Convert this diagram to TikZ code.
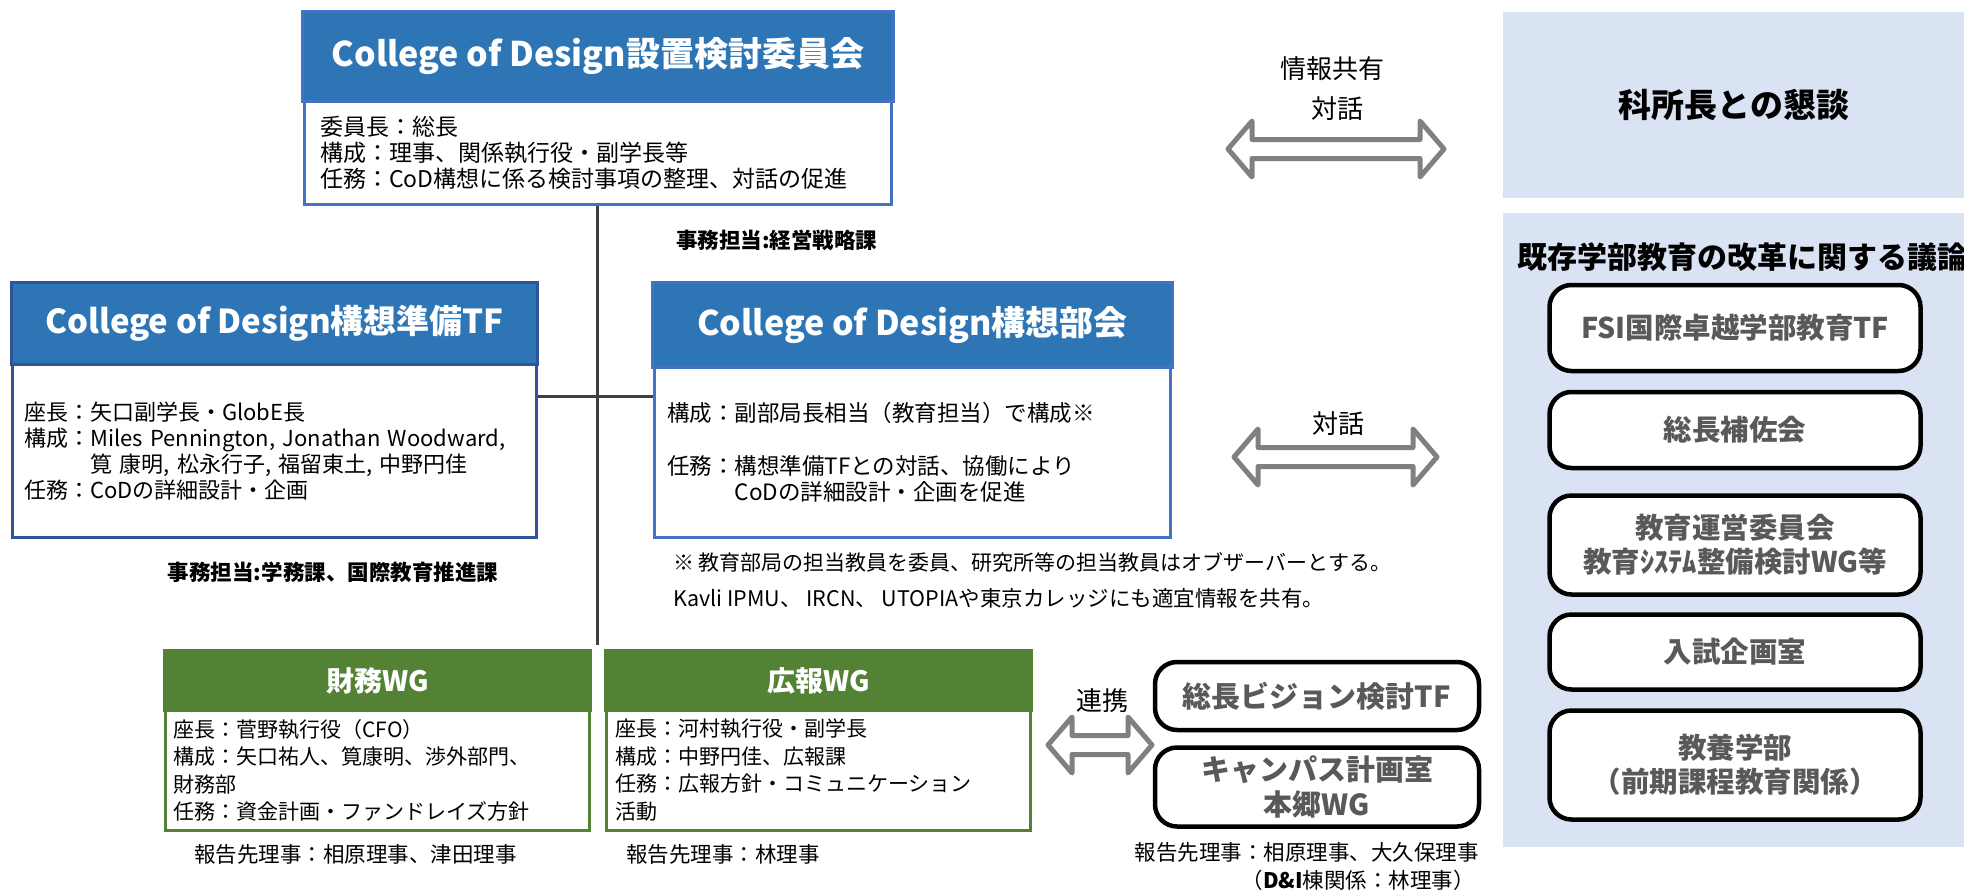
\documentclass[tikz,border=0pt]{standalone}
\usepackage{fontspec}
\setmainfont{Noto Sans CJK JP}
\definecolor{hblue}{HTML}{2E75B6}
\definecolor{bblue}{HTML}{4472C4}
\definecolor{dblue}{HTML}{2F5597}
\definecolor{wgreen}{HTML}{548235}
\definecolor{panelc}{HTML}{DAE3F3}
\definecolor{agray}{HTML}{808080}
\definecolor{tgray}{HTML}{595959}
\definecolor{lgray}{HTML}{404040}
\newcommand{\fs}[2]{\fontsize{#1}{#2}\selectfont}
\newcommand{\dblarr}[3]{%
\draw[dblarrow] (#1,#3) -- ({#1+24},{#3-28}) -- ({#1+24},{#3-9.5}) -- ({#2-24},{#3-9.5}) -- ({#2-24},{#3-28}) -- (#2,#3) -- ({#2-24},{#3+28}) -- ({#2-24},{#3+9.5}) -- ({#1+24},{#3+9.5}) -- ({#1+24},{#3+28}) -- cycle;}
\begin{document}
\begin{tikzpicture}[x=1pt,y=-1pt,
  hdr/.style={rectangle, anchor=north west, inner sep=0pt, line width=3pt, text=white, font=\bfseries\fs{34}{40}},
  hdrblue/.style={hdr, fill=hblue, draw=bblue},
  bodybox/.style={rectangle, anchor=north west, fill=white, line width=2.5pt, align=left, inner ysep=0pt, font=\fs{22}{26}},
  wgbody/.style={bodybox, draw=wgreen, font=\fs{21}{27.5}},
  wghdr/.style={hdr, fill=wgreen, draw=wgreen, minimum width=426pt, minimum height=60pt, font=\bfseries\fs{28}{34}},
  rbox/.style={rectangle, rounded corners=22pt, draw=black, line width=4.5pt, fill=white, text=tgray, font=\bfseries\fs{28.5}{34}, align=center, inner sep=0pt},
  panelbox/.style={rectangle, fill=panelc, anchor=north west, inner sep=0pt},
  conn/.style={draw=lgray, line width=3pt},
  dblarrow/.style={draw=agray, fill=white, line width=5pt, line join=round},
  lbl/.style={inner sep=0pt, font=\fs{26}{30}},
  txt/.style={inner sep=0pt, font=\fs{21}{26}},
  rep/.style={inner sep=0pt, font=\fs{21.5}{26}},
  office/.style={inner sep=0pt, font=\bfseries\fs{21.5}{26}}
]
\useasboundingbox (0,0) rectangle (1964,889);

\coordinate (vend) at (597,645);
\coordinate (hy) at (0,396);

% top committee
\node[bodybox, draw=bblue, text width=555pt, inner xsep=16pt, minimum height=103pt, font=\fs{23}{26}] (topb) at (303,100)
 {委員長：総長\\構成：理事、関係執行役・副学長等\\任務：CoD構想に係る検討事項の整理、対話の促進};
\node[hdrblue, minimum width=591pt, minimum height=90pt] (toph) at (301,10) {College of Design設置検討委員会};

% left TF
\node[bodybox, draw=dblue, text width=500pt, inner xsep=12pt, minimum height=173pt] (lb) at (11,363)
 {座長：矢口副学長・GlobE長\\\mbox{構成：Miles Pennington, Jonathan Woodward,}\\\mbox{\phantom{構成：}筧 康明, 松永行子, 福留東土, 中野円佳}\\任務：CoDの詳細設計・企画};
\node[hdr, fill=hblue, draw=dblue, minimum width=526pt, minimum height=82pt, font=\bfseries\fs{33}{40}] (lh) at (10,281) {College of Design構想準備TF};

% middle
\node[bodybox, draw=bblue, text width=490pt, inner xsep=13pt, minimum height=170pt, font=\fs{22.5}{26}] (mb) at (653,366)
 {構成：副部局長相当（教育担当）で構成※\\[27pt]任務：構想準備TFとの対話、協働により\\\phantom{任務：}CoDの詳細設計・企画を促進};
\node[hdrblue, minimum width=520pt, minimum height=85pt] (mh) at (651,281) {College of Design構想部会};

% connectors
\draw[conn] (topb.south) -- (topb.south |- vend);
\draw[conn] (lb.east |- hy) -- (mb.west |- hy);

% office notes
\node[office, anchor=west] (of1) at (676,240) {事務担当:経営戦略課};
\node[office] (of2) at (333,572) {事務担当:学務課、国際教育推進課};
\node[txt, anchor=west] (n1) at (673,562) {※ 教育部局の担当教員を委員、研究所等の担当教員はオブザーバーとする。};
\node[txt, anchor=west, font=\fs{21.5}{26}] (n2) at (673,598) {Kavli IPMU、 IRCN、 UTOPIAや東京カレッジにも適宜情報を共有。};

% WGs
\node[wgbody, text width=408pt, inner xsep=8pt, minimum height=120pt] (fb) at (164,709)
 {座長：菅野執行役（CFO）\\構成：矢口祐人、筧康明、渉外部門、\\財務部\\任務：資金計画・ファンドレイズ方針};
\node[wghdr] (fh) at (163,649) {財務WG};
\node[wgbody, text width=406pt, inner xsep=9pt, minimum height=120pt] (pb) at (605,709)
 {座長：河村執行役・副学長\\構成：中野円佳、広報課\\任務：広報方針・コミュニケーション\\活動};
\node[wghdr] (ph) at (604,649) {広報WG};

\node[rep, anchor=west] (r1) at (194,854) {報告先理事：相原理事、津田理事};
\node[rep, anchor=west] (r2) at (626,854) {報告先理事：林理事};

% arrows
\dblarr{1228}{1444}{149}
\dblarr{1234}{1437}{457}
\dblarr{1048}{1152}{745}
\node[lbl] (a1t) at (1332,69) {情報共有};
\node[lbl] (a1b) at (1337,109) {対話};
\node[lbl] (a2) at (1338,424) {対話};
\node[lbl] (a3) at (1102,701) {連携};

% vision / campus boxes
\node[rbox, minimum width=324pt, minimum height=68pt, font=\bfseries\fs{29}{35}] (vis) at (1317,696) {総長ビジョン検討TF};
\node[rbox, minimum width=324pt, minimum height=79pt, font=\bfseries\fs{29}{35}] (cam) at (1317,787) {キャンパス計画室\\本郷WG};
\node[rep, anchor=east] (r3) at (1479,852) {報告先理事：相原理事、大久保理事};
\node[rep, anchor=east] (r4) at (1475,880) {（\textbf{D\&I}棟関係：林理事）};

% right panels
\node[panelbox, minimum width=461pt, minimum height=186pt, font=\bfseries\fs{33}{36}] (kp) at (1503,12) {科所長との懇談};
\node[panelbox, minimum width=461pt, minimum height=634pt] (rp) at (1503,213) {};
\node[inner sep=0pt, font=\bfseries\fs{30}{34}] (rpt) at (1742,257) {既存学部教育の改革に関する議論};
\node[rbox, minimum width=371pt, minimum height=86pt] (rb1) at (1735,328) {FSI国際卓越学部教育TF};
\node[rbox, minimum width=371pt, minimum height=76pt] (rb2) at (1735,430) {総長補佐会};
\node[rbox, minimum width=371pt, minimum height=99pt] (rb3) at (1735,545) {教育運営委員会\\教育ｼｽﾃﾑ整備検討WG等};
\node[rbox, minimum width=371pt, minimum height=75pt] (rb4) at (1735,652) {入試企画室};
\node[rbox, minimum width=371pt, minimum height=109pt] (rb5) at (1735,765) {教養学部\\（前期課程教育関係）};
\end{tikzpicture}
\end{document}
